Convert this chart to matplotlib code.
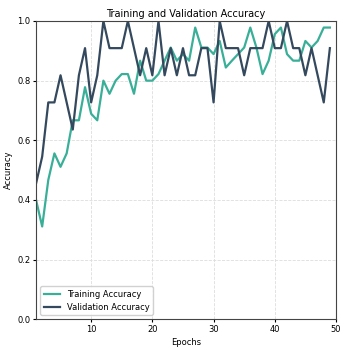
import matplotlib
matplotlib.use("Agg")
import matplotlib.pyplot as plt

epochs = list(range(1, 50))
train_acc = [0.400, 0.311, 0.467, 0.556, 0.511, 0.556, 0.667, 0.667, 0.778, 0.689,
             0.667, 0.800, 0.756, 0.800, 0.822, 0.822, 0.756, 0.867, 0.800, 0.800,
             0.822, 0.867, 0.911, 0.867, 0.889, 0.867, 0.978, 0.911, 0.911, 0.889,
             0.933, 0.844, 0.867, 0.889, 0.911, 0.978, 0.911, 0.822, 0.867, 0.956,
             0.978, 0.889, 0.867, 0.867, 0.933, 0.911, 0.933, 0.978, 0.978]
val_acc = [0.455, 0.545, 0.727, 0.727, 0.818, 0.727, 0.636, 0.818, 0.909, 0.727,
           0.818, 1.000, 0.909, 0.909, 0.909, 1.000, 0.909, 0.818, 0.909, 0.818,
           1.000, 0.818, 0.909, 0.818, 0.909, 0.818, 0.818, 0.909, 0.909, 0.727,
           1.000, 0.909, 0.909, 0.909, 0.818, 0.909, 0.909, 0.909, 1.000, 0.909,
           0.909, 1.000, 0.909, 0.909, 0.818, 0.909, 0.818, 0.727, 0.909]

fig, ax = plt.subplots(figsize=(3.5, 3.5), dpi=100)
ax.plot(epochs, train_acc, color="#3aaf98", lw=1.6, label="Training Accuracy")
ax.plot(epochs, val_acc, color="#34495e", lw=1.6, label="Validation Accuracy")
ax.set_xlim(1, 50)
ax.set_ylim(0, 1)
ax.set_title("Training and Validation Accuracy", fontsize=7, pad=3)
ax.set_xlabel("Epochs", fontsize=6, labelpad=3)
ax.set_ylabel("Accuracy", fontsize=6, labelpad=3)
ax.tick_params(labelsize=6, length=2, pad=2)
ax.grid(True, linestyle="--", color="#dddddd", lw=0.6)
for s in ax.spines.values():
    s.set_color("#444444")
ax.legend(loc="lower left", fontsize=6, framealpha=0.9)
fig.subplots_adjust(left=0.103, right=0.96, top=0.94, bottom=0.088)
fig.savefig("out.png")
